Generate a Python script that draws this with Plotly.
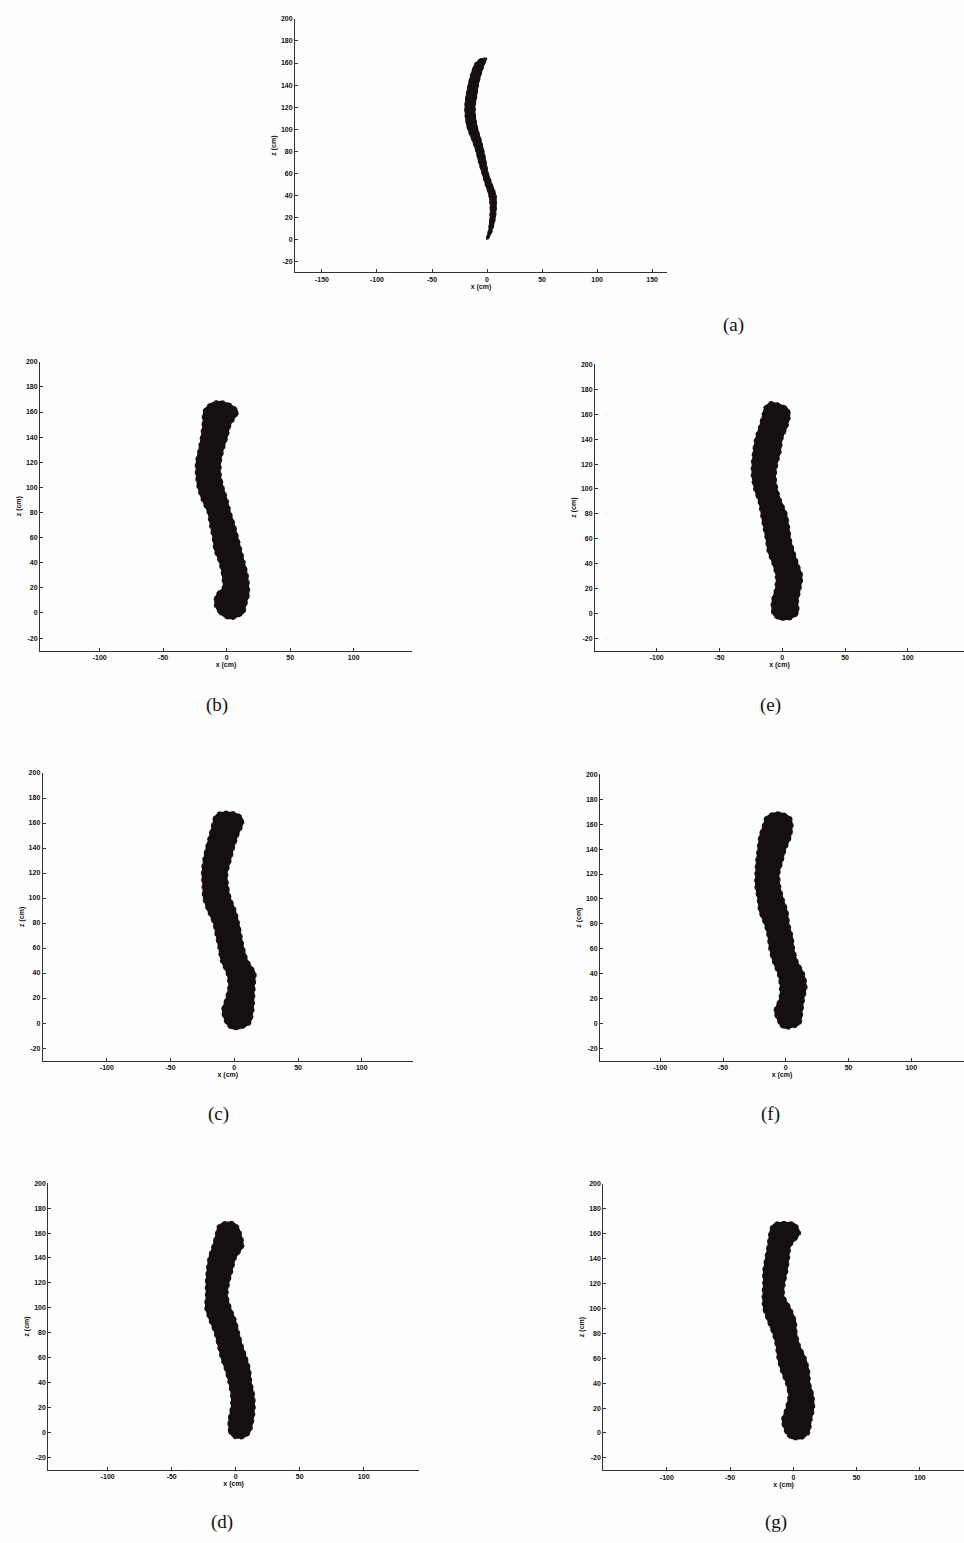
import plotly.graph_objects as go

# ---- outline of the reconstructed trunk in each view: height z (cm) with left / right x edge (cm)
z_a = [0, 5, 10, 20, 30, 40, 50, 60, 70, 80, 90, 100, 110, 120, 130, 140, 150, 160, 164]
left_a = [-0.5, 0.8, 1.8, 2.8, 3.0, 1.8, -1.5, -4.5, -7.5, -10, -13.5, -17.5, -19.5, -20, -19, -17, -14.5, -10.5, -5]
right_a = [0.5, 3.5, 5.2, 7.5, 8.3, 8, 4.5, 1, -1, -3, -5.5, -8.5, -10.5, -11, -9.5, -8, -5.5, -2, -0.3]

z_b = [-4, 0, 5, 10, 15, 20, 30, 40, 50, 60, 70, 80, 90, 100, 110, 120, 130, 140, 150, 160, 165, 168]
left_b = [1, -5, -8.4, -9, -7.3, -2.6, -3, -5.2, -9, -10.5, -12.6, -14.4, -19, -22.3, -23.6, -23.6, -21.5, -19.7, -18.4, -17.8, -14.4, -8]
right_b = [5, 13, 14.4, 15.7, 17, 17, 16, 13.6, 11, 8.4, 5.8, 2.6, 0, -3.1, -5.2, -5.2, -3.1, 0, 2.6, 8.4, 4, -4]

z_c = [-4, 0, 10, 20, 30, 40, 50, 60, 70, 80, 90, 100, 110, 120, 130, 140, 150, 160, 165, 168]
left_c = [-2, -6, -9, -6, -3.9, -5.5, -10, -11.8, -13.9, -16, -20.4, -23.8, -24.3, -24.8, -23.8, -21.7, -19, -16.4, -15, -11]
right_c = [4.4, 12, 14.4, 15, 15.4, 16, 10, 7, 5, 3.1, 0.5, -3.4, -5.5, -6, -3.4, -0.8, 2.4, 6.5, 5, -0.8]

z_d = [-4, 0, 10, 20, 30, 40, 50, 60, 70, 80, 90, 100, 110, 120, 130, 140, 150, 160, 165, 168]
left_d = [-0.5, -4.4, -5, -3.1, -3.1, -5, -7.6, -11, -13.5, -16, -20, -23.2, -22.7, -22.7, -22, -20.6, -17.4, -14.8, -13.5, -9.6]
right_d = [6, 10.7, 13.3, 14.3, 13.8, 11.7, 10.7, 8, 4.7, 2, -0.5, -4.4, -7, -5.7, -3.1, -0.5, 5.5, 3.4, 1.3, -1.8]

z_e = [-4, 0, 10, 20, 30, 40, 50, 60, 70, 80, 90, 100, 110, 120, 130, 140, 150, 160, 165, 169]
left_e = [-3, -7.2, -7.7, -5, -4.5, -7.2, -11, -12.5, -14.6, -16.4, -18.3, -21.8, -23.6, -23.6, -22.6, -21, -17.8, -15, -13.8, -9.8]
right_e = [6.1, 12, 12, 14, 15.3, 12, 8.8, 6.1, 4.8, 2.9, -1.3, -4.5, -5.8, -4.5, -1.9, -0.5, 3.4, 5.6, 3.4, -7]

z_f = [-3, 0, 10, 20, 30, 40, 50, 60, 70, 80, 90, 100, 110, 120, 130, 140, 150, 160, 165, 168.5]
left_f = [-1.9, -4.5, -8.5, -4.5, -4, -5.8, -9.8, -12.5, -13.8, -16.5, -20.5, -21.8, -23.6, -23.6, -23, -21.8, -20.5, -17.3, -15.7, -9.8]
right_f = [3.5, 10.9, 12.7, 14, 16, 14, 8.8, 6.1, 4.8, 2.1, 0.8, -2.4, -5, -5.8, -3.2, -0.5, 3.5, 4.8, 3.5, -3.2]

z_g = [-4, 0, 10, 20, 30, 40, 50, 60, 70, 80, 90, 100, 110, 120, 130, 140, 150, 160, 165, 168]
left_g = [-1.3, -5.3, -8.4, -5.3, -3.2, -5.3, -9.2, -11.9, -13.2, -15.8, -19.8, -23.2, -23.7, -23.2, -23.2, -21.6, -19.8, -18.4, -17, -13.7]
right_g = [6.6, 11.9, 13.7, 15.8, 15.3, 12.6, 11.9, 9.2, 4.7, 2.1, 1.3, -2.6, -7.9, -7.4, -5.3, -4, -2.6, 4.7, 3, 0]

z_ticks = [-20, 0, 20, 40, 60, 80, 100, 120, 140, 160, 180, 200]
x_ticks_wide = [-150, -100, -50, 0, 50, 100, 150]
x_ticks = [-100, -50, 0, 50, 100]
panel_names = ["(a)", "(b)", "(c)", "(d)", "(e)", "(f)", "(g)"]

W, H = 964, 1543

# pixel frame of each plot area (left, right, top, bottom) with its x range
frames = {
    "(a)": dict(px=(295, 667), py=(15, 269), xr=(-174.5, 163.5), xt=x_ticks_wide, lab=(733, 322)),
    "(b)": dict(px=(40, 412), py=(358.7, 648.3), xr=(-147, 145.9), xt=x_ticks, lab=(217, 703)),
    "(c)": dict(px=(42.7, 413), py=(771, 1059.3), xr=(-150.3, 140.2), xt=x_ticks, lab=(218, 1113)),
    "(d)": dict(px=(48.3, 419), py=(1182.3, 1469.5), xr=(-146.4, 143.2), xt=x_ticks, lab=(222, 1522)),
    "(e)": dict(px=(595, 964), py=(361.4, 648.5), xr=(-149.1, 144.7), xt=x_ticks, lab=(770, 703)),
    "(f)": dict(px=(600, 964), py=(772.3, 1059.8), xr=(-148, 142), xt=x_ticks, lab=(770, 1113)),
    "(g)": dict(px=(603.3, 964), py=(1182.7, 1470.2), xr=(-150.2, 134.9), xt=x_ticks, lab=(776, 1522)),
}

outlines = {
    "(a)": (z_a, left_a, right_a),
    "(b)": (z_b, left_b, right_b),
    "(c)": (z_c, left_c, right_c),
    "(d)": (z_d, left_d, right_d),
    "(e)": (z_e, left_e, right_e),
    "(f)": (z_f, left_f, right_f),
    "(g)": (z_g, left_g, right_g),
}

INK = "#150f0f"
AXIS = "#333333"
TICK_FONT = dict(family="Liberation Sans, Arial", size=7, color="#111111", weight="bold")

fig = go.Figure()
annotations = []

for i, name in enumerate(panel_names, start=1):
    fr = frames[name]
    zs, xl, xr_ = outlines[name]
    xs = list(xl) + list(reversed(xr_)) + [xl[0]]
    ys = list(zs) + list(reversed(zs)) + [zs[0]]
    suffix = "" if i == 1 else str(i)
    xa, ya = "x" + suffix, "y" + suffix

    # solid body of the point cloud
    fig.add_trace(go.Scatter(
        x=xs, y=ys, xaxis=xa, yaxis=ya, mode="lines", fill="toself",
        fillcolor=INK, line=dict(color=INK, width=1 if name == "(a)" else 2,
                                 shape="spline", smoothing=0.7),
        hoverinfo="skip", showlegend=False,
    ))
    # ragged fringe along the outline
    fig.add_trace(go.Scatter(
        x=xs, y=ys, xaxis=xa, yaxis=ya, mode="lines",
        line=dict(color=INK, width=1.5 if name == "(a)" else 3.5, dash="dot",
                  shape="spline", smoothing=0.7),
        hoverinfo="skip", showlegend=False,
    ))

    x0, x1 = fr["px"]
    y0, y1 = fr["py"]
    common = dict(showgrid=False, zeroline=False, showline=True, linecolor=AXIS,
                  linewidth=1, ticks="inside", ticklen=3, tickcolor=AXIS,
                  tickfont=TICK_FONT, mirror=False, fixedrange=True)
    fig.layout["xaxis" + suffix] = dict(
        common, domain=[x0 / W, x1 / W], range=list(fr["xr"]), anchor=ya,
        tickvals=fr["xt"], ticktext=[str(v) for v in fr["xt"]],
        title=dict(text="x (cm)", font=TICK_FONT, standoff=1),
    )
    fig.layout["yaxis" + suffix] = dict(
        common, domain=[1 - y1 / H, 1 - y0 / H], range=[-30, 200], anchor=xa,
        tickvals=z_ticks, ticktext=[str(v) for v in z_ticks],
        title=dict(text="z (cm)", font=TICK_FONT, standoff=3),
    )
    lx, ly = fr["lab"]
    annotations.append(dict(
        text=name, x=lx / W, y=1 - ly / H, xref="paper", yref="paper",
        showarrow=False, xanchor="center", yanchor="middle",
        font=dict(family="Liberation Serif, Times New Roman", size=19, color="#111111"),
    ))

fig.update_layout(
    width=W, height=H, margin=dict(l=0, r=0, t=0, b=0),
    paper_bgcolor="#fdfdfd", plot_bgcolor="rgba(0,0,0,0)",
    annotations=annotations, showlegend=False,
)

fig.write_html("out.html")
